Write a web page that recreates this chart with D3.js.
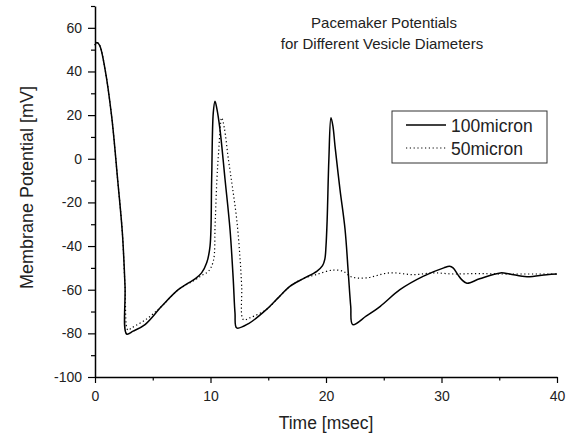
<!DOCTYPE html>
<html>
<head>
<meta charset="utf-8">
<script src="https://cdn.jsdelivr.net/npm/d3@7"></script>
<style>
  body { margin: 0; background: #fff; }
  svg { display: block; font-family: "Liberation Sans", Arial, sans-serif; }
</style>
</head>
<body>
<div id="chart"></div>
<script>
// time [msec] / membrane potential [mV]
var t100 = [0, 0.15, 0.4, 0.87, 1.44, 1.96, 2.37, 2.6, 2.74, 3.3, 4.33, 5.77, 7.21, 8.66, 9.23, 9.67, 9.96, 10.1, 10.24, 10.39, 10.55, 10.82, 11.26, 11.69, 11.97, 12.12, 12.27, 13.3, 14.86, 15.9, 16.9, 18.0, 19.2, 19.7, 19.9, 20.0, 20.1, 20.25, 20.43, 20.6, 20.78, 21.21, 21.65, 21.93, 22.14, 22.31, 23.5, 24.7, 26.4, 28.4, 30.2, 30.7, 31.0, 31.4, 31.75, 32.2, 33.3, 35.1, 35.9, 37.4, 39.1, 40];
var v100 = [52, 53.3, 52, 41, 19.5, -9.5, -34, -58.4, -80.3, -79, -76, -67.6, -60, -55, -52.3, -47.7, -40, -9.5, 21, 26.4, 23, 13.5, -9.5, -32.4, -55.4, -70.6, -77.5, -75.5, -69, -63.5, -58.4, -55, -51.6, -49, -46, -40, -28, 0, 18.8, 15, 5.8, -14, -32.4, -52.3, -67.6, -76, -72, -67.6, -60, -53.9, -50, -49.3, -50, -53, -55.4, -57, -55, -52.3, -52.8, -54.1, -53.1, -52.8];
var t50 = [0, 0.15, 0.4, 0.87, 1.44, 1.96, 2.37, 2.6, 2.85, 3.17, 4.47, 5.77, 7.21, 8.66, 9.23, 9.81, 10.24, 10.4, 10.55, 10.7, 10.97, 11.2, 11.55, 11.9, 12.27, 12.55, 12.7, 12.84, 13.4, 14.86, 15.9, 16.9, 18.0, 19.2, 20.6, 21.5, 22.1, 22.65, 23.5, 25.5, 27.6, 29.3, 31, 33, 35, 37, 40];
var v50 = [52, 53.3, 52, 41, 19.5, -9.5, -34, -58.4, -78.5, -77.5, -73.4, -67.6, -60, -55.5, -53.5, -51.6, -47, -30, -10, 2.7, 18.8, 14, -0.3, -13, -27.8, -45, -58.4, -73.7, -72.9, -69, -63.5, -58.4, -55, -53, -51, -51.6, -53.9, -54.6, -54.6, -52.3, -53.1, -52.3, -52.8, -52.6, -52.8, -52.8, -52.8];
var seriesNames = ["100micron", "50micron"];
var xMajor = [0, 10, 20, 30, 40];
var xMinor = [5, 15, 25, 35];
var yMajor = [-100, -80, -60, -40, -20, 0, 20, 40, 60];
var yMinor = [-90, -70, -50, -30, -10, 10, 30, 50, 70];

var width = 571, height = 435;
var margin = {top: 6, right: 14, bottom: 58, left: 95};

var svg = d3.select("#chart").append("svg")
    .attr("width", width)
    .attr("height", height);

var x = d3.scaleLinear().domain([0, 40]).range([margin.left, width - margin.right]);
var y = d3.scaleLinear().domain([-100, 70]).range([height - margin.bottom, margin.top]);
var fmt = function (d) { return String(d); }; // plain hyphen minus

// axes: major + minor ticks
var xAxisG = svg.append("g").attr("transform", "translate(0," + y(-100) + ")");
xAxisG.call(d3.axisBottom(x).tickValues(xMajor).tickSize(6).tickSizeOuter(0).tickFormat(fmt));
xAxisG.append("g").call(d3.axisBottom(x).tickValues(xMinor).tickSize(3.5).tickFormat(""))
    .select(".domain").remove();

var yAxisG = svg.append("g").attr("transform", "translate(" + x(0) + ",0)");
yAxisG.call(d3.axisLeft(y).tickValues(yMajor).tickSize(7).tickSizeOuter(0).tickFormat(fmt));
yAxisG.append("g").call(d3.axisLeft(y).tickValues(yMinor).tickSize(4).tickFormat(""))
    .select(".domain").remove();

svg.selectAll(".domain").attr("stroke", "#000").attr("stroke-width", 1.5);
svg.selectAll(".tick line").attr("stroke", "#000").attr("stroke-width", 1.2);
svg.selectAll(".tick text").attr("fill", "#222").attr("font-size", "14px")
    .attr("font-family", "Liberation Sans, Arial, sans-serif");
xAxisG.selectAll(".tick text").attr("y", 14);
yAxisG.selectAll(".tick text").attr("x", -13);

// curves
var line = d3.line()
    .x(function (d) { return x(d[0]); })
    .y(function (d) { return y(d[1]); })
    .curve(d3.curveCatmullRom.alpha(0.5));

var d50 = t50.map(function (t, i) { return [t, v50[i]]; });
var d100 = t100.map(function (t, i) { return [t, v100[i]]; });

svg.append("path").datum(d50)
    .attr("d", line)
    .attr("fill", "none")
    .attr("stroke", "#000")
    .attr("stroke-width", 1.2)
    .attr("stroke-dasharray", "1.2,2.6");

svg.append("path").datum(d100)
    .attr("d", line)
    .attr("fill", "none")
    .attr("stroke", "#000")
    .attr("stroke-width", 1.5);

// titles
svg.append("text").attr("x", 384).attr("y", 28).attr("text-anchor", "middle")
    .attr("font-size", "15px").attr("fill", "#222").text("Pacemaker Potentials");
svg.append("text").attr("x", 382).attr("y", 49).attr("text-anchor", "middle")
    .attr("font-size", "15px").attr("fill", "#222").text("for Different Vesicle Diameters");

svg.append("text")
    .attr("transform", "translate(33,187.5) rotate(-90)")
    .attr("text-anchor", "middle").attr("font-size", "18px").attr("fill", "#222")
    .text("Membrane Potential [mV]");
svg.append("text").attr("x", (x(0) + x(40)) / 2).attr("y", 429).attr("text-anchor", "middle")
    .attr("font-size", "17.5px").attr("fill", "#222").text("Time [msec]");

// legend
var legend = svg.append("g").attr("transform", "translate(392,111)");
legend.append("rect").attr("width", 155).attr("height", 52)
    .attr("fill", "#fff").attr("stroke", "#333").attr("stroke-width", 1);
seriesNames.forEach(function (name, i) {
  var ly = 14 + i * 23;
  legend.append("line").attr("x1", 14).attr("x2", 54).attr("y1", ly).attr("y2", ly)
      .attr("stroke", "#000").attr("stroke-width", i === 0 ? 1.5 : 1.2)
      .attr("stroke-dasharray", i === 0 ? null : "1.2,2.6");
  legend.append("text").attr("x", 59).attr("y", ly + 6.5).attr("font-size", "17.5px")
      .attr("fill", "#222").text(name);
});
</script>
</body>
</html>
